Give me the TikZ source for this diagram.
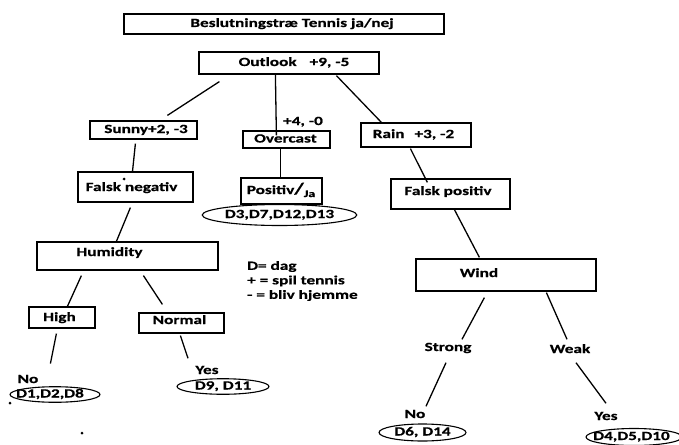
\documentclass[tikz,border=0pt]{standalone}
\usepackage{fontspec}
\setmainfont{Carlito}[FakeStretch=1.38, BoldFeatures={FakeBold=0.7}]
\usetikzlibrary{shapes.geometric}
\begin{document}
\begin{tikzpicture}[x=1pt,y=-1pt,
  every node/.style={font=\fontsize{12.5}{15}\selectfont\bfseries, inner sep=0pt, text height=8.5pt, text depth=2.5pt},
  bx/.style={draw, line width=1.2pt, rectangle, text height=, text depth=},
  ov/.style={draw, line width=1.1pt, ellipse, inner sep=0pt},
  cn/.style={line width=1.3pt},
  dotmark/.style={circle, fill, minimum size=3pt, inner sep=0pt, text height=, text depth=}]
\useasboundingbox (0,0) rectangle (679,444);

% boxes
\node[bx, minimum width=320pt, minimum height=20pt] (title) at (284,24) {};
\node (titletxt) at (292,24) {Beslutningstræ Tennis ja/nej};

\node[bx, minimum width=180pt, minimum height=22pt] (outlook) at (289,63) {};
\node (outlooktxt) at (294,63) {Outlook\hspace{13pt}+9, -5};

\node[bx, minimum width=107pt, minimum height=18pt] (sunny) at (143.5,130) {};
\node (sunnytxt) at (146,130) {Sunny+2, -3};

\node[bx, minimum width=87pt, minimum height=17pt] (overcast) at (286.5,139.5) {};
\node (overcasttxt) at (285.5,139.5) {Overcast};
\node (plusfour) at (303,122) {+4, -0};

\node[bx, minimum width=110pt, minimum height=24pt] (rain) at (416,135) {};
\node (raintxt) at (413.5,135) {Rain\hspace{10pt}+3, -2};

\node[bx, minimum width=81pt, minimum height=26pt] (positiv) at (281.5,191) {};
\node (positivtxt) at (281,191) {Positiv{\fontsize{16}{16}\selectfont/}\raisebox{-3pt}{\fontsize{10}{10}\selectfont Ja}};
\node[ov, minimum width=119pt, minimum height=21pt] (dpos) at (279.5,215) {D3,D7,D12,D13};

\node[bx, minimum width=115pt, minimum height=30pt] (falskneg) at (135.5,187) {};
\node (falsknegtxt) at (131.5,188) {Falsk negativ};
\node[dotmark] (dotone) at (124,179) {};

\node[bx, minimum width=119pt, minimum height=30pt] (falskpos) at (450.5,194) {};
\node (falskpostxt) at (448,192) {Falsk positiv};

\node[bx, minimum width=181pt, minimum height=28pt] (humidity) at (127.5,256) {};
\node (humiditytxt) at (109.5,253) {Humidity};

\node[bx, minimum width=66pt, minimum height=21pt] (high) at (62,317.5) {};
\node (hightxt) at (59.5,318) {High};

\node[bx, minimum width=85pt, minimum height=20pt] (normal) at (181.5,323) {};
\node (normaltxt) at (179.5,321) {Normal};

\node[bx, minimum width=180pt, minimum height=32pt] (wind) at (506,275) {};
\node (windtxt) at (479,274) {Wind};

\node (strong) at (448,348) {Strong};
\node (weak) at (570,350) {Weak};

\node (noleft) at (28,380) {No};
\node[ov, minimum width=90pt, minimum height=13pt] (dnoleft) at (55,394.5) {};
\node (dnolefttxt) at (50,394.5) {D1,D2,D8};

\node (yesleft) at (207,371) {Yes};
\node[ov, minimum width=92pt, minimum height=15pt] (dyesleft) at (223,386.5) {D9, D11};

\node (noright) at (415,415) {No};
\node[ov, minimum width=87pt, minimum height=17pt] (dnoright) at (422.5,432.5) {D6, D14};

\node (yesright) at (606,417) {Yes};
\node[ov, minimum width=96pt, minimum height=17pt] (dyesright) at (634,437) {};
\node (dyesrighttxt) at (631.5,437) {D4,D5,D10};

\node[dotmark] (dottwo) at (10,403) {};
\node[dotmark] (dotthree) at (82,433) {};

% legend
\node[anchor=west, align=left, text height=, text depth=, font=\fontsize{12.5}{14.5}\selectfont\bfseries] (legend) at (247,281) {D= dag\\+ = spil tennis\\- = bliv hjemme};

% connectors
\draw[cn] ([shift={(21,7)}]outlook.south west) -- ([shift={(78,-5)}]sunny.north west);
\draw[cn] ([shift={(77,0)}]outlook.south west) -- ([shift={(34,5)}]overcast.north west);
\draw[cn] ([shift={(138,1)}]outlook.south west) -- ([shift={(21,0)}]rain.north west);
\draw[cn] ([shift={(38,0)}]overcast.south west) -- ([shift={(40,0)}]positiv.north west);
\draw[cn] ([shift={(46,4)}]sunny.south west) -- ([shift={(55,1)}]falskneg.north west);
\draw[cn] ([shift={(53,5)}]falskneg.south west) -- ([shift={(80,0)}]humidity.north west);
\draw[cn] ([shift={(45,5)}]humidity.south west) -- ([shift={(39,0)}]high.north west);
\draw[cn] ([shift={(107,5)}]humidity.south west) -- ([shift={(24,-8)}]normal.north west);
\draw[cn] ([shift={(28,5)}]high.south west) -- ([shift={(22,35)}]high.south west);
\draw[cn] ([shift={(42,2)}]normal.south west) -- ([shift={(-19,-7)}]yesleft.north);
\draw[cn] ([shift={(50,1)}]rain.south west) -- ([shift={(37,4)}]falskpos.north west);
\draw[cn] ([shift={(64,0)}]falskpos.south west) -- ([shift={(64,-1)}]wind.north west);
\draw[cn] ([shift={(69,6)}]wind.south west) -- ([shift={(14,-3)}]strong.north);
\draw[cn] ([shift={(131,1)}]wind.south west) -- ([shift={(-3,-5)}]weak.north);
\draw[cn] ([shift={(-2,9)}]strong.south) -- ([shift={(11,-3)}]noright.north);
\draw[cn] ([shift={(6,7)}]weak.south) -- ([shift={(0,-8)}]yesright.north);
\end{tikzpicture}
\end{document}
